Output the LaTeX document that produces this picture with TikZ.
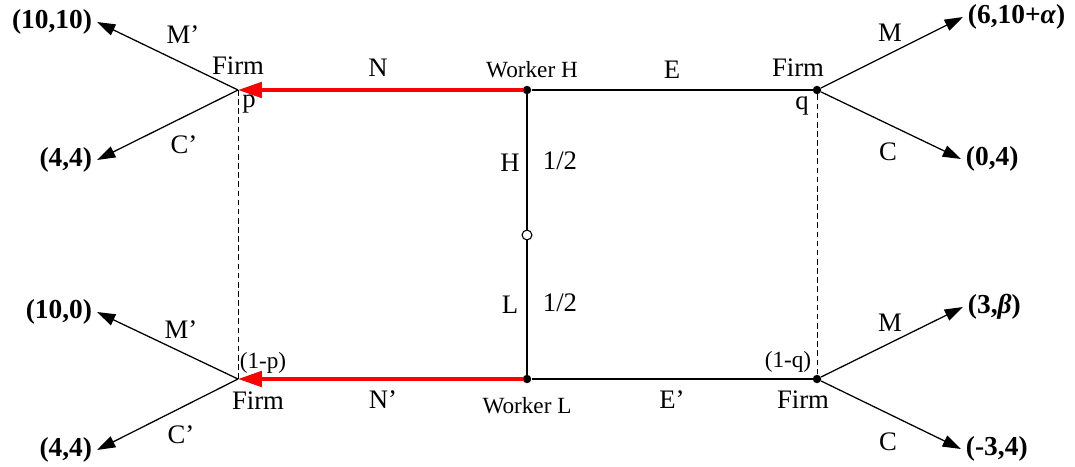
\documentclass[tikz,border=0pt]{standalone}
\usepackage{fontspec}
\setmainfont{Liberation Serif}
\usetikzlibrary{arrows.meta,positioning}
\definecolor{gtred}{HTML}{FF0000}

\begin{document}
\begin{tikzpicture}[
    every node/.style={font=\fontsize{19}{22}\selectfont},
    small/.style={font=\fontsize{16.5}{19}\selectfont},
    payoff/.style={font=\fontsize{19.5}{22}\selectfont\bfseries},
    move/.style={draw=black, line width=0.9pt, -{Triangle[length=13pt,width=8.5pt]}},
    redmove/.style={draw=gtred, line width=2.6pt, -{Triangle[length=17pt,width=11pt]}},
    branch/.style={draw=black, line width=0.9pt},
    info/.style={draw=black, line width=0.6pt, dash pattern=on 4pt off 2.5pt},
    dot/.style={circle, fill=black, inner sep=0pt, minimum size=6pt},
    chance/.style={circle, draw=black, fill=white, line width=0.8pt, inner sep=0pt, minimum size=7pt}
  ]
  \useasboundingbox (0,0) rectangle (26.875,11.65);

  % ---- Decision points ----
  \coordinate (pF) at (5.95,9.40);
  \coordinate (pF2) at (5.95,2.175);
  \node[dot] (wH) at (13.175,9.40) {};
  \node[dot] (wL) at (13.175,2.175) {};
  \node[chance] (nat) at (13.175,5.775) {};
  \node[dot] (qF) at (20.425,9.40) {};
  \node[dot] (qF2) at (20.425,2.175) {};

  % ---- Arrow ends ----
  \coordinate (tMp) at (2.425,11.10);
  \coordinate (tCp) at (2.425,7.65);
  \coordinate (tMp2) at (2.425,3.85);
  \coordinate (tCp2) at (2.425,0.40);
  \coordinate (tMq) at (24.075,11.225);
  \coordinate (tCq) at (24.025,7.675);
  \coordinate (tMq2) at (24.075,3.975);
  \coordinate (tCq2) at (24.025,0.425);

  % ---- Nature and workers ----
  \draw[branch] (wH) -- (nat);
  \draw[branch] (nat) -- (wL);
  \draw[branch] (wH) -- (qF);
  \draw[branch] (wL) -- (qF2);
  \draw[redmove] (wH) -- (pF);
  \draw[redmove] (wL) -- (pF2);

  % ---- Information sets ----
  \draw[info] (pF) -- (pF2);
  \draw[info] (qF) -- (qF2);

  % ---- Firm moves ----
  \draw[move] (pF) -- (tMp);
  \draw[move] (pF) -- (tCp);
  \draw[move] (pF2) -- (tMp2);
  \draw[move] (pF2) -- (tCp2);
  \draw[move] (qF) -- (tMq);
  \draw[move] (qF) -- (tCq);
  \draw[move] (qF2) -- (tMq2);
  \draw[move] (qF2) -- (tCq2);

  % ---- Payoffs ----
  \node[payoff, left=0pt of tMp] (uMp) {(10,10)};
  \node[payoff, left=0pt of tCp] (uCp) {(4,4)};
  \node[payoff, left=0pt of tMp2] (uMp2) {(10,0)};
  \node[payoff, left=0pt of tCp2] (uCp2) {(4,4)};
  \node[payoff, right=0pt of tMq] (uMq) {(6,10+\textit{α})};
  \node[payoff, right=0pt of tCq] (uCq) {(0,4)};
  \node[payoff, right=0pt of tMq2] (uMq2) {(3,\textit{β})};
  \node[payoff, right=0pt of tCq2] (uCq2) {(-3,4)};

  % ---- Labels, top ----
  \node (firmTL) at (5.95,10.0) {Firm};
  \node (pLab) at (6.225,9.05) {p};
  \node (mTL) at (4.575,10.775) {M'};
  \node (cTL) at (4.6,8.025) {C'};
  \node (nLab) at (9.45,9.95) {N};
  \node[small] (wHLab) at (13.3,9.9) {Worker H};
  \node (eLab) at (16.8,9.9) {E};
  \node (firmTR) at (19.95,9.95) {Firm};
  \node (qLab) at (20.05,9.0) {q};
  \node (mTR) at (22.25,10.825) {M};
  \node (cTR) at (22.2,7.85) {C};

  % ---- Labels, nature ----
  \node (hLab) at (12.75,7.575) {H};
  \node (hProb) at (14.0,7.625) {1/2};
  \node (lLab) at (12.75,4.025) {L};
  \node (lProb) at (14.0,4.075) {1/2};

  % ---- Labels, bottom ----
  \node (mBL) at (4.525,3.4) {M'};
  \node[small] (pLab2) at (6.575,2.575) {(1-p)};
  \node (firmBL) at (6.45,1.625) {Firm};
  \node (cBL) at (4.525,0.775) {C'};
  \node (nLab2) at (9.575,1.65) {N'};
  \node[small] (wLLab) at (13.175,1.5) {Worker L};
  \node (eLab2) at (16.8,1.65) {E'};
  \node[small] (qLab2) at (19.7,2.6) {(1-q)};
  \node (firmBR) at (20.075,1.65) {Firm};
  \node (mBR) at (22.25,3.575) {M};
  \node (cBR) at (22.2,0.6) {C};

\end{tikzpicture}
\end{document}
